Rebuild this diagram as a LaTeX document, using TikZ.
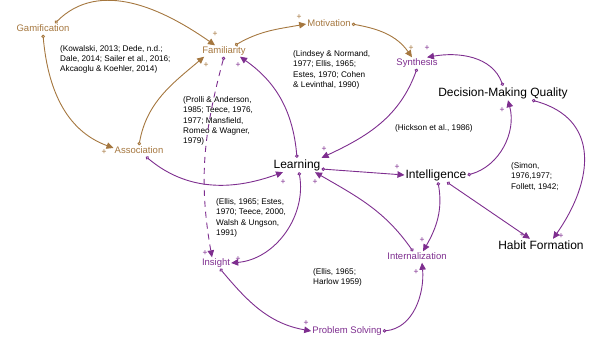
\documentclass[tikz,border=0pt]{standalone}
\usepackage{xcolor}
\definecolor{cldbrown}{HTML}{A5773F}
\definecolor{cldpurple}{HTML}{7E2E8F}
\usepackage{fontspec}
\setmainfont{Liberation Sans}
\usepackage{tikz}
\usetikzlibrary{arrows.meta}

\begin{document}
\begin{tikzpicture}[x=1pt,y=1pt,
 var/.style={inner sep=1pt,text height=7pt,text depth=2pt,%
   font=\fontsize{9.5}{11}\selectfont},
 keyvar/.style={inner sep=1pt,text height=9pt,text depth=3pt,%
   font=\fontsize{12}{14}\selectfont},
 cite/.style={anchor=north west,inner sep=0pt,align=left,%
   font=\fontsize{8.2}{10.2}\selectfont},
 pol/.style={inner sep=0pt,font=\fontsize{8.5}{8.5}\selectfont},
 link/.style={{Circle[open,length=3.5pt,width=3.5pt]}-{Triangle[length=7pt,width=6.5pt]},%
   line width=0.9pt}]
\useasboundingbox (0,0) rectangle (596,-337);
% variables
\node[var,text=cldbrown] (gam) at (43,-29) {Gamification};
\node[var,text=cldbrown] (fam) at (224,-51) {Familiarity};
\node[var,text=cldbrown] (mot) at (329,-24) {Motivation};
\node[var,text=cldbrown] (assoc) at (139,-151) {Association};
\node[var,text=cldpurple] (syn) at (417,-63) {Synthesis};
\node[var,text=cldpurple] (insight) at (216,-263) {Insight};
\node[var,text=cldpurple] (intern) at (417,-257) {Internalization};
\node[var,text=cldpurple] (ps) at (347,-331) {Problem Solving};
\node[keyvar] (dmq) at (503,-93) {Decision-Making Quality};
\node[keyvar] (learn) at (297,-165) {Learning};
\node[keyvar] (intel) at (436,-175) {Intelligence};
\node[keyvar] (habit) at (541,-246) {Habit Formation};
% sources
\node[cite] (c1) at (60,-45) {(Kowalski, 2013; Dede, n.d.;\\Dale, 2014; Sailer et al., 2016;\\Akcaoglu \& Koehler, 2014)};
\node[cite] (c2) at (293,-50.5) {(Lindsey \& Normand,\\1977; Ellis, 1965;\\Estes, 1970; Cohen\\\& Levinthal, 1990)};
\node[cite] (c3) at (183,-96.5) {(Prolli \& Anderson,\\1985; Teece, 1976,\\1977; Mansfield,\\Romeo \& Wagner,\\1979)};
\node[cite] (c4) at (395,-124.5) {(Hickson et al., 1986)};
\node[cite] (c5) at (511,-162.5) {(Simon,\\1976,1977;\\Follett, 1942;};
\node[cite] (c6) at (216,-198.5) {(Ellis, 1965; Estes,\\1970; Teece, 2000,\\Walsh \& Ungson,\\1991)};
\node[cite] (c7) at (313,-268.5) {(Ellis, 1965;\\Harlow 1959)};
% brown links
\begin{scope}[cldbrown]
\draw[link] ([xshift=12pt]gam.north) to[out=45,in=145] ([xshift=-9pt]fam.north);
\draw[link] (gam.south) to[out=-85,in=160] ([yshift=3pt]assoc.west);
\draw[link] (assoc.north) to[out=80,in=-140] ([xshift=3pt]fam.south west);
\draw[link] ([xshift=11pt]fam.north) to[out=30,in=190] (mot.west);
\draw[link] (mot.east) to[out=-10,in=125] ([xshift=-5pt]syn.north);
\node[pol] (p1) at (215,-34) {+};
\node[pol] (p2) at (104,-152) {+};
\node[pol] (p3) at (206,-65) {+};
\node[pol] (p4) at (299,-17) {+};
\node[pol] (p5) at (411,-48) {+};
\end{scope}
% purple links
\begin{scope}[cldpurple]
\draw[link] (dmq.north) to[out=110,in=10] ([xshift=10pt]syn.north);
\draw[link] (syn.south) to[out=-110,in=25] (learn.north east);
\draw[link] (learn.north) to[out=95,in=-35] ([xshift=16pt]fam.south);
\draw[link,dash pattern=on 6pt off 5pt] (fam.south) to[out=-105,in=100] ([xshift=-4pt]insight.north);
\draw[link] ([xshift=7pt]assoc.south) to[out=-40,in=-160] ([xshift=-14pt]learn.south);
\draw[link] ([xshift=2pt]learn.south) to[out=-80,in=5] (insight.east);
\draw[link] ([yshift=-4pt]learn.east) -- (intel.west);
\draw[link] ([xshift=-4pt]intern.north) to[out=125,in=-30] ([xshift=18pt]learn.south);
\draw[link] ([xshift=2pt]intel.south) to[out=-80,in=60] ([xshift=6pt]intern.north);
\draw[link] (intel.east) to[out=15,in=-75] ([xshift=5pt]dmq.south);
\draw[link] ([xshift=11pt]intel.south) -- ([xshift=-11pt]habit.north);
\draw[link] ([xshift=29pt]dmq.south) to[out=-15,in=55,looseness=1.3] ([xshift=12pt]habit.north);
\draw[link] ([xshift=4pt]insight.south) to[out=-50,in=170] (ps.west);
\draw[link] (ps.east) to[out=5,in=-85] ([xshift=5pt]intern.south);
\node[pol] (p6) at (427,-48) {+};
\node[pol] (p7) at (324,-149) {+};
\node[pol] (p8) at (238,-65) {+};
\node[pol] (p9) at (205,-253) {+};
\node[pol] (p10) at (283,-182) {+};
\node[pol] (p11) at (238,-259) {+};
\node[pol] (p12) at (397,-167) {+};
\node[pol] (p13) at (315,-182) {+};
\node[pol] (p14) at (422,-240) {+};
\node[pol] (p15) at (502,-110) {+};
\node[pol] (p16) at (522,-235) {+};
\node[pol] (p17) at (561,-236) {+};
\node[pol] (p18) at (306,-323) {+};
\node[pol] (p19) at (416,-272) {+};
\end{scope}
\end{tikzpicture}
\end{document}
